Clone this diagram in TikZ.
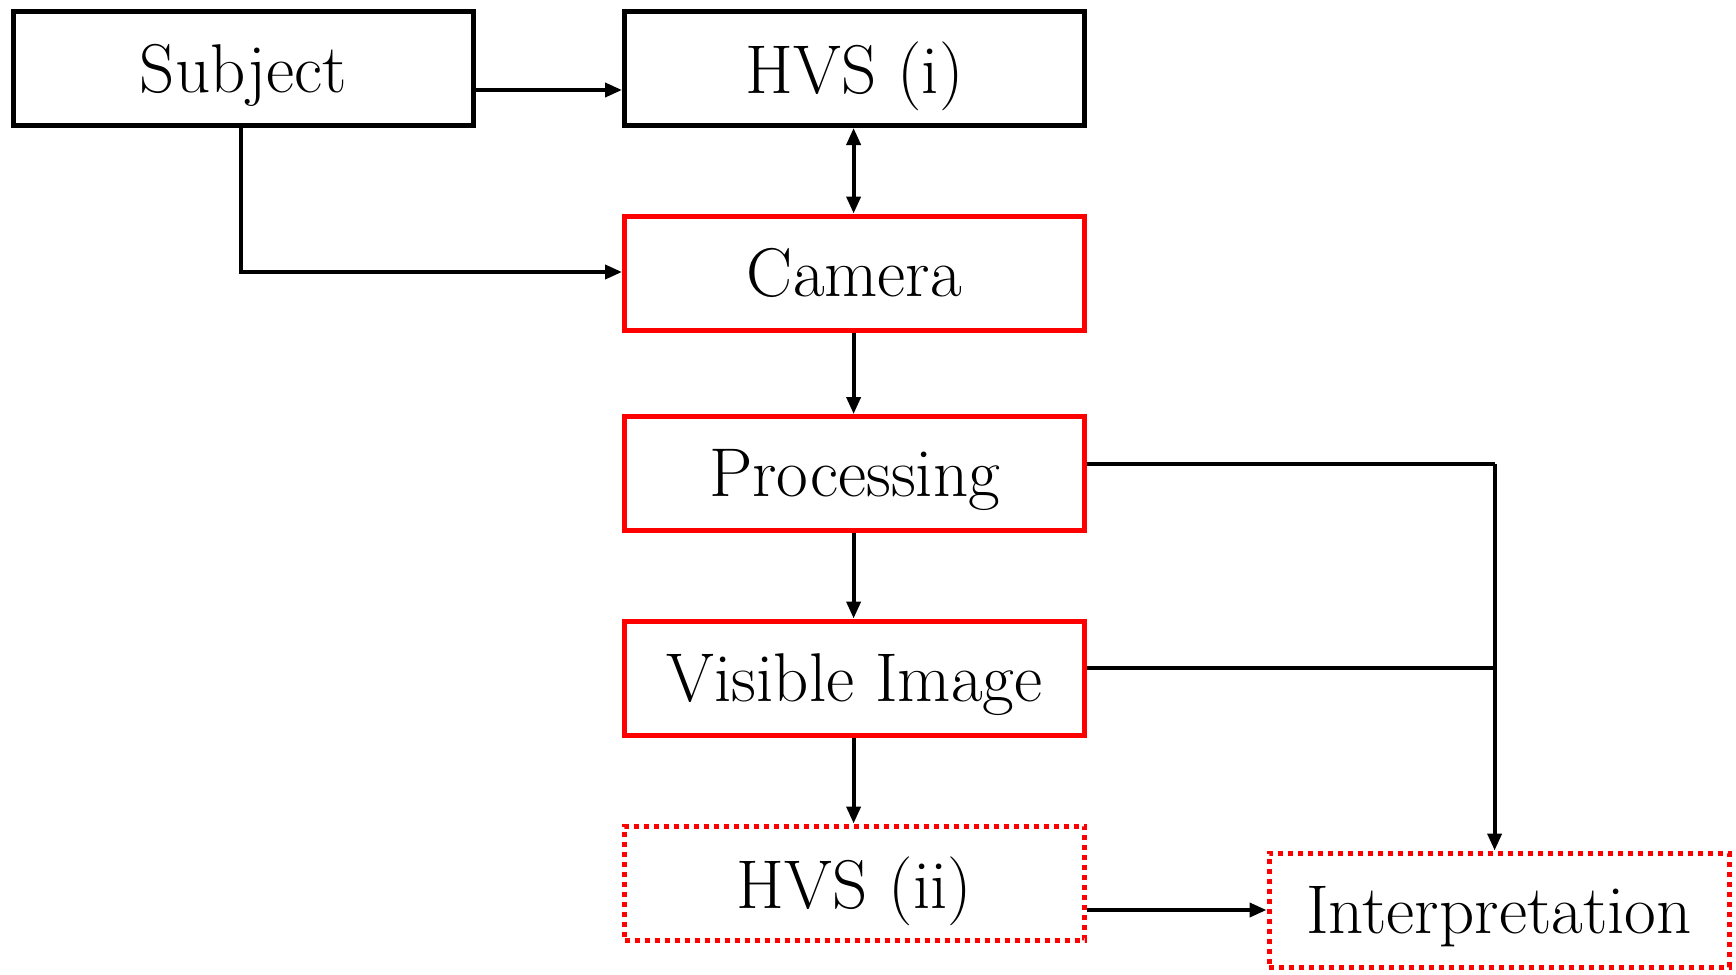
\documentclass[tikz,border=0pt]{standalone}
\usetikzlibrary{arrows.meta}
\definecolor{boxred}{RGB}{255,0,0}
\begin{document}
\begin{tikzpicture}[x=1pt,y=-1pt,
  box/.style={draw, line width=5pt, minimum width=460pt, minimum height=114pt, inner sep=0pt,
    font=\fontsize{69}{76}\selectfont, text depth=0.1em},
  blackbox/.style={box, draw=black},
  redbox/.style={box, draw=boxred},
  dotbox/.style={box, draw=boxred, dash pattern=on 5pt off 5pt},
  conn/.style={line width=3.8pt, -{Triangle[length=17pt,width=14pt]}},
  plain/.style={line width=3.8pt}
]
\useasboundingbox (0,0) rectangle (1736,974);
\node[blackbox] (subj) at (243.5,68.5) {Subject};
\node[blackbox] (hvs1) at (854.5,68.5) {HVS (i)};
\node[redbox] (cam) at (854.5,273) {Camera};
\node[redbox] (proc) at (854.5,473.5) {Processing};
\node[redbox] (vis) at (854.5,678) {Visible Image};
\node[dotbox] (hvs2) at (854.5,883) {HVS (ii)};
\node[dotbox] (interp) at (1499,910) {Interpretation};

\coordinate (j1) at (1494.6,464);
\coordinate (j2) at (1494.6,668);
\coordinate (c1) at (241,272);

\draw[conn] (subj.east |- 0,90) -- (hvs1.west |- 0,90);
\draw[conn] (subj.south -| c1) -- (c1) -- (cam.west |- c1);
\draw[line width=3.8pt, {Triangle[length=17pt,width=14pt]}-{Triangle[length=17pt,width=14pt]}] (hvs1.south -| 853.6,0) -- (cam.north -| 853.6,0);
\draw[conn] (cam.south -| 853.6,0) -- (proc.north -| 853.6,0);
\draw[conn] (proc.south -| 853.6,0) -- (vis.north -| 853.6,0);
\draw[conn] (vis.south -| 853.6,0) -- (hvs2.north -| 853.6,0);
\draw[plain] (proc.east |- j1) -- (j1);
\draw[plain] (vis.east |- j2) -- (j2);
\draw[conn] (j1) -- (interp.north -| j1);
\draw[conn] (hvs2.east |- interp.west) -- (interp.west);
\end{tikzpicture}
\end{document}
